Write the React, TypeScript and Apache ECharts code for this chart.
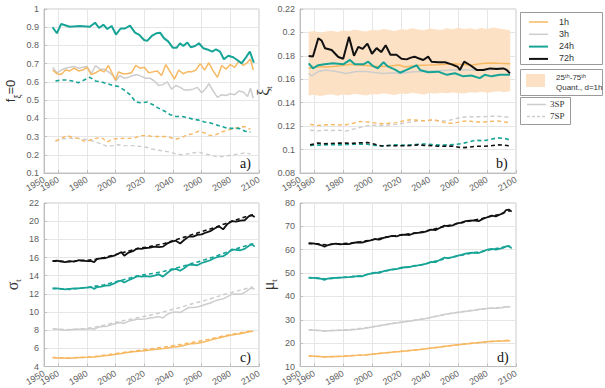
import React, { useEffect, useRef } from "react";
import * as echarts from "echarts";

const C1 = "#F7B862";
const C3 = "#CDCDCD";
const C24 = "#17A497";
const C72 = "#111111";
const BAND = "#FDE1C4";

// Panel a) f_xi=0
const a1hSolid: [number, number][] = [[1956,0.665],[1959,0.645],[1962,0.64],[1965,0.665],[1968,0.66],[1971,0.675],[1974,0.66],[1977,0.665],[1980,0.68],[1983,0.64],[1986,0.65],[1989,0.665],[1992,0.655],[1995,0.69],[1998,0.64],[2000,0.61],[2002,0.655],[2005,0.645],[2008,0.645],[2011,0.65],[2014,0.69],[2017,0.675],[2020,0.68],[2023,0.65],[2026,0.655],[2029,0.66],[2032,0.635],[2035,0.695],[2038,0.655],[2041,0.615],[2044,0.665],[2047,0.645],[2050,0.655],[2053,0.655],[2056,0.665],[2059,0.70],[2062,0.665],[2065,0.705],[2068,0.66],[2071,0.625],[2074,0.69],[2077,0.67],[2080,0.695],[2083,0.68],[2086,0.715],[2089,0.69],[2091,0.70],[2094,0.725],[2096,0.665]];
const a3hSolid: [number, number][] = [[1956,0.68],[1959,0.65],[1962,0.665],[1965,0.675],[1968,0.68],[1971,0.685],[1974,0.675],[1977,0.68],[1980,0.685],[1983,0.645],[1986,0.69],[1989,0.67],[1992,0.67],[1995,0.655],[1998,0.635],[2000,0.605],[2003,0.635],[2006,0.62],[2009,0.625],[2012,0.635],[2015,0.64],[2018,0.63],[2021,0.62],[2024,0.62],[2027,0.605],[2030,0.58],[2033,0.585],[2036,0.60],[2039,0.56],[2042,0.58],[2045,0.57],[2048,0.555],[2051,0.555],[2054,0.56],[2057,0.57],[2060,0.54],[2063,0.565],[2065,0.59],[2068,0.55],[2071,0.515],[2074,0.53],[2077,0.525],[2080,0.535],[2083,0.53],[2086,0.55],[2089,0.545],[2092,0.52],[2094,0.565],[2096,0.51]];
const a24hSolid: [number, number][] = [[1956,0.90],[1959,0.867],[1962,0.918],[1968,0.903],[1975,0.907],[1982,0.903],[1985.6,0.925],[1988.4,0.896],[1991.4,0.914],[1994.2,0.89],[1997.2,0.907],[2000.2,0.86],[2003.5,0.893],[2006.5,0.893],[2010,0.909],[2013.5,0.87],[2016.5,0.858],[2019.8,0.83],[2022,0.825],[2025.2,0.852],[2028.6,0.867],[2031,0.87],[2033.7,0.84],[2036.8,0.821],[2039.8,0.788],[2042.6,0.788],[2044.9,0.812],[2047.2,0.797],[2050,0.816],[2052.4,0.79],[2055.4,0.797],[2058.1,0.812],[2061.1,0.785],[2064.6,0.776],[2067.4,0.766],[2070,0.779],[2072.8,0.766],[2075.5,0.724],[2078.6,0.743],[2082,0.735],[2084.8,0.72],[2087.8,0.702],[2091.3,0.739],[2093.6,0.766],[2096.4,0.706]];
const a1hDash: [number, number][] = [[1958,0.275],[1962,0.29],[1966,0.305],[1970,0.295],[1974,0.29],[1978,0.275],[1982,0.28],[1986,0.29],[1990,0.295],[1994,0.27],[1998,0.285],[2002,0.29],[2006,0.29],[2010,0.29],[2014,0.295],[2018,0.305],[2022,0.305],[2026,0.30],[2030,0.30],[2034,0.30],[2038,0.295],[2042,0.285],[2046,0.295],[2050,0.31],[2054,0.315],[2058,0.33],[2062,0.32],[2066,0.305],[2070,0.31],[2074,0.325],[2078,0.335],[2082,0.345],[2086,0.35],[2090,0.355],[2094,0.34]];
const a3hDash: [number, number][] = [[1958,0.275],[1962,0.285],[1966,0.29],[1970,0.29],[1974,0.29],[1978,0.285],[1982,0.28],[1986,0.27],[1990,0.26],[1994,0.245],[1998,0.25],[2002,0.255],[2006,0.25],[2010,0.25],[2014,0.25],[2018,0.245],[2022,0.24],[2026,0.23],[2030,0.225],[2034,0.22],[2038,0.215],[2042,0.205],[2046,0.20],[2050,0.205],[2054,0.21],[2058,0.215],[2062,0.205],[2066,0.20],[2070,0.19],[2074,0.19],[2078,0.195],[2082,0.20],[2086,0.205],[2090,0.21],[2094,0.205]];
const a24hDash: [number, number][] = [[1958,0.605],[1962,0.61],[1966,0.61],[1970,0.605],[1974,0.595],[1978,0.61],[1982,0.625],[1986,0.605],[1990,0.60],[1994,0.59],[1998,0.58],[2002,0.575],[2006,0.555],[2010,0.53],[2014,0.49],[2018,0.485],[2022,0.49],[2026,0.475],[2030,0.455],[2034,0.44],[2038,0.42],[2042,0.41],[2046,0.41],[2050,0.405],[2054,0.395],[2058,0.39],[2062,0.38],[2066,0.375],[2070,0.365],[2074,0.355],[2078,0.345],[2082,0.345],[2086,0.345],[2090,0.33],[2094,0.325]];

// Panel b) xi_t
const bandYears = [1956,1960,1964,1968,1972,1976,1980,1984,1988,1992,1996,2000,2004,2008,2012,2016,2020,2024,2028,2032,2036,2040,2044,2048,2052,2056,2060,2064,2068,2072,2076,2080,2084,2088,2092,2096];
const bandUpper = [0.2005,0.2012,0.1998,0.2008,0.2015,0.2003,0.2018,0.2010,0.2025,0.2014,0.2008,0.2022,0.2016,0.2030,0.2020,0.2012,0.2028,0.2022,0.2035,0.2026,0.2018,0.2033,0.2027,0.2020,0.2036,0.2028,0.2040,0.2030,0.2036,0.2024,0.2038,0.2030,0.2042,0.2034,0.2028,0.2015];
const bandLower = [0.1462,0.1468,0.1458,0.1465,0.1472,0.1460,0.1470,0.1464,0.1476,0.1468,0.1462,0.1474,0.1470,0.1480,0.1472,0.1466,0.1478,0.1474,0.1484,0.1476,0.1470,0.1482,0.1478,0.1486,0.1480,0.1488,0.1482,0.1478,0.1490,0.1484,0.1494,0.1486,0.1492,0.1498,0.1490,0.1500];
const b72hSolid: [number, number][] = [[1956,0.1799],[1959,0.1795],[1962.7,0.195],[1965,0.193],[1967.4,0.1865],[1972,0.185],[1976.6,0.179],[1980,0.1775],[1984,0.1962],[1987.5,0.180],[1990.5,0.1877],[1993.5,0.186],[1996.8,0.1905],[2000,0.1818],[2003.2,0.1866],[2006.4,0.1832],[2009.5,0.189],[2012.8,0.181],[2017,0.181],[2020.5,0.1775],[2024,0.177],[2027,0.1785],[2029.5,0.1793],[2032.2,0.178],[2035.6,0.1765],[2039,0.1793],[2041.4,0.175],[2046,0.1745],[2050.7,0.1745],[2055.3,0.1727],[2059.5,0.1707],[2061,0.168],[2064,0.175],[2068,0.1722],[2072.7,0.168],[2077.3,0.168],[2082,0.1693],[2086.6,0.1688],[2091.2,0.1693],[2093.5,0.168],[2095.8,0.165]];
const b24hSolid: [number, number][] = [[1956,0.1736],[1959,0.1694],[1962.7,0.172],[1967,0.1728],[1973,0.1736],[1980,0.1728],[1984.7,0.1765],[1988,0.1728],[1994,0.1728],[1997.4,0.175],[2001,0.171],[2004,0.1694],[2008,0.1745],[2011,0.171],[2016,0.1682],[2019.5,0.1656],[2024,0.168],[2027,0.1698],[2030,0.1713],[2031,0.172],[2033.3,0.168],[2039,0.166],[2046,0.1665],[2052,0.1638],[2057.6,0.1652],[2063.4,0.1625],[2069,0.1632],[2074.8,0.161],[2078.3,0.1638],[2083,0.1625],[2088.7,0.1638],[2095.8,0.1638]];
const b1hSolid: [number, number][] = [[1956,0.1694],[1960,0.1702],[1964,0.171],[1968,0.1705],[1973,0.171],[1978,0.1716],[1985,0.1728],[1990,0.1722],[1996,0.1717],[2002,0.1712],[2008,0.171],[2014,0.1716],[2019,0.1722],[2023,0.1705],[2029,0.1715],[2035,0.172],[2040,0.1722],[2046,0.1725],[2051,0.1728],[2057,0.1733],[2063,0.1726],[2069,0.172],[2075,0.1732],[2081,0.174],[2088,0.1736],[2096,0.1733]];
const b3hSolid: [number, number][] = [[1956,0.165],[1958,0.163],[1963,0.1667],[1968,0.168],[1975,0.1667],[1982,0.165],[1989,0.1667],[1996,0.1667],[2002,0.1658],[2008,0.165],[2014,0.1655],[2019,0.165],[2027,0.1662],[2035,0.1667],[2046,0.1672],[2057,0.168],[2069,0.168],[2081,0.168],[2087,0.1698],[2092,0.1688],[2096,0.167]];
const b1hDash: [number, number][] = [[1957,0.1215],[1962,0.1205],[1967,0.121],[1972,0.1213],[1977,0.121],[1982,0.1212],[1987,0.1225],[1992,0.124],[1997,0.1235],[2002,0.1228],[2007,0.122],[2012,0.1225],[2017,0.123],[2022,0.1245],[2027,0.1255],[2032,0.125],[2037,0.1245],[2042,0.1255],[2047,0.1245],[2052,0.1225],[2057,0.1225],[2062,0.124],[2067,0.1245],[2072,0.1235],[2077,0.1235],[2082,0.124],[2087,0.1245],[2092,0.1235],[2095,0.123]];
const b3hDash: [number, number][] = [[1957,0.1165],[1962,0.116],[1967,0.1165],[1972,0.1163],[1977,0.1165],[1982,0.1158],[1987,0.1175],[1992,0.119],[1997,0.1205],[2002,0.1208],[2007,0.1205],[2012,0.121],[2017,0.1215],[2022,0.1225],[2027,0.1235],[2032,0.1245],[2037,0.1245],[2042,0.125],[2047,0.1245],[2052,0.1245],[2057,0.126],[2062,0.1275],[2067,0.128],[2072,0.128],[2077,0.128],[2082,0.1285],[2087,0.1285],[2092,0.128],[2095,0.1275]];
const b24hDash: [number, number][] = [[1957,0.1035],[1962,0.1038],[1967,0.104],[1972,0.1042],[1977,0.104],[1982,0.1043],[1987,0.1045],[1992,0.1047],[1997,0.1045],[2002,0.1035],[2007,0.1032],[2012,0.1035],[2017,0.104],[2022,0.1038],[2027,0.104],[2032,0.1045],[2037,0.1048],[2042,0.1042],[2047,0.1038],[2052,0.104],[2057,0.1042],[2062,0.105],[2067,0.1065],[2072,0.108],[2077,0.1075],[2082,0.1085],[2087,0.11],[2092,0.1095],[2095,0.1085]];
const b72hDash: [number, number][] = [[1957,0.104],[1962,0.1055],[1967,0.105],[1972,0.1052],[1977,0.1055],[1982,0.1055],[1987,0.1053],[1992,0.1058],[1997,0.106],[2002,0.1045],[2007,0.103],[2012,0.1035],[2017,0.1032],[2022,0.1033],[2027,0.1035],[2032,0.104],[2037,0.1035],[2042,0.1033],[2047,0.1028],[2052,0.103],[2057,0.1028],[2062,0.1015],[2067,0.102],[2072,0.1028],[2077,0.1028],[2082,0.1032],[2087,0.104],[2092,0.1038],[2095,0.1032]];

// Panel c) sigma_t
const c72hSolid: [number, number][] = [[1956,15.6],[1959,15.65],[1962,15.55],[1965,15.5],[1968,15.6],[1971,15.55],[1974,15.7],[1977,15.65],[1980,15.6],[1983,15.6],[1985,15.5],[1987,15.85],[1990,15.9],[1993,15.95],[1996,16.1],[1999,16.2],[2002,16.45],[2004,16.6],[2006,16.2],[2009,16.55],[2012,16.7],[2015,17.0],[2018,16.95],[2021,17.05],[2024,17.1],[2027,17.2],[2030,17.15],[2033,17.2],[2036,17.55],[2039,17.75],[2042,17.85],[2045,17.55],[2048,17.95],[2051,18.3],[2054,18.3],[2057,18.5],[2060,18.55],[2063,18.75],[2066,18.9],[2069,19.2],[2072,19.45],[2075,19.1],[2078,19.7],[2081,20.0],[2084,19.95],[2087,20.05],[2090,20.1],[2093,20.55],[2095,20.65],[2097,20.45]];
const c72hDash: [number, number][] = [[1956,15.6],[1962,15.6],[1968,15.55],[1974,15.65],[1980,15.7],[1986,15.8],[1992,16.0],[1998,16.25],[2004,16.5],[2010,16.75],[2016,17.0],[2022,17.15],[2028,17.35],[2034,17.55],[2040,17.85],[2046,18.15],[2052,18.45],[2058,18.75],[2064,19.05],[2070,19.35],[2076,19.7],[2082,20.05],[2088,20.35],[2094,20.65],[2096,20.7]];
const c24hSolid: [number, number][] = [[1956,12.6],[1959,12.6],[1962,12.55],[1965,12.5],[1968,12.55],[1971,12.6],[1974,12.6],[1977,12.65],[1980,12.7],[1983,12.75],[1985,12.55],[1987,12.75],[1990,12.8],[1993,12.9],[1996,12.95],[1999,13.15],[2002,13.4],[2004,13.45],[2006,13.25],[2009,13.5],[2012,13.7],[2015,13.95],[2018,13.9],[2021,13.95],[2024,13.9],[2027,14.0],[2030,14.15],[2033,13.9],[2036,14.3],[2039,14.65],[2042,14.75],[2045,14.55],[2048,14.85],[2051,15.2],[2054,15.2],[2057,15.15],[2060,15.4],[2063,15.55],[2066,15.7],[2069,15.95],[2072,16.1],[2075,16.15],[2078,16.45],[2081,16.9],[2084,16.85],[2087,16.8],[2090,16.95],[2093,17.3],[2095,17.45],[2097,17.2]];
const c24hDash: [number, number][] = [[1956,12.6],[1962,12.55],[1968,12.5],[1974,12.6],[1980,12.7],[1986,12.85],[1992,13.0],[1998,13.25],[2004,13.5],[2010,13.75],[2016,14.0],[2022,14.15],[2028,14.3],[2034,14.5],[2040,14.75],[2046,15.0],[2052,15.3],[2058,15.55],[2064,15.85],[2070,16.15],[2076,16.5],[2082,16.85],[2088,17.15],[2094,17.45],[2096,17.5]];
const c3hSolid: [number, number][] = [[1956,8.15],[1959,8.1],[1962,8.05],[1965,8.0],[1968,8.05],[1971,8.1],[1974,8.1],[1977,8.15],[1980,8.1],[1983,8.2],[1985,8.1],[1988,8.35],[1991,8.4],[1994,8.45],[1997,8.6],[2000,8.75],[2003,8.85],[2006,8.75],[2009,9.0],[2012,9.1],[2015,9.2],[2018,9.2],[2021,9.25],[2024,9.35],[2027,9.4],[2030,9.5],[2033,9.35],[2036,9.75],[2039,9.95],[2042,10.0],[2045,9.95],[2048,10.25],[2051,10.5],[2054,10.5],[2057,10.55],[2060,10.7],[2063,10.85],[2066,11.0],[2069,11.2],[2072,11.35],[2075,11.45],[2078,11.7],[2081,11.95],[2084,12.0],[2087,11.95],[2090,12.15],[2093,12.5],[2095,12.65],[2097,12.5]];
const c3hDash: [number, number][] = [[1956,8.15],[1962,8.1],[1968,8.05],[1974,8.1],[1980,8.2],[1986,8.35],[1992,8.55],[1998,8.8],[2004,9.0],[2010,9.2],[2016,9.4],[2022,9.6],[2028,9.8],[2034,10.05],[2040,10.3],[2046,10.55],[2052,10.85],[2058,11.1],[2064,11.35],[2070,11.65],[2076,11.95],[2082,12.2],[2088,12.45],[2094,12.7],[2096,12.75]];
const c1hSolid: [number, number][] = [[1956,5.0],[1960,4.95],[1964,4.95],[1968,4.92],[1972,4.97],[1976,5.0],[1980,5.02],[1984,5.05],[1988,5.12],[1992,5.2],[1996,5.25],[2000,5.35],[2004,5.45],[2008,5.55],[2012,5.62],[2016,5.7],[2020,5.75],[2024,5.82],[2028,5.9],[2032,5.95],[2036,6.05],[2040,6.15],[2044,6.2],[2048,6.35],[2052,6.5],[2056,6.55],[2060,6.65],[2064,6.8],[2068,7.0],[2072,7.15],[2076,7.3],[2080,7.45],[2084,7.55],[2088,7.65],[2092,7.8],[2096,7.9]];
const c1hDash: [number, number][] = [[1956,5.0],[1962,4.97],[1968,4.95],[1974,5.0],[1980,5.05],[1986,5.12],[1992,5.25],[1998,5.38],[2004,5.52],[2010,5.65],[2016,5.78],[2022,5.9],[2028,6.02],[2034,6.15],[2040,6.3],[2046,6.45],[2052,6.62],[2058,6.8],[2064,6.98],[2070,7.18],[2076,7.4],[2082,7.58],[2088,7.75],[2094,7.92],[2096,7.95]];

// Panel d) mu_t
const d72hSolid: [number, number][] = [[1956,62.8],[1959,62.7],[1962,62.4],[1965,61.9],[1967,61.3],[1969,61.9],[1972,62.4],[1975,62.6],[1978,62.3],[1981,62.5],[1984,62.4],[1987,62.9],[1990,63.2],[1993,63.0],[1996,63.6],[1999,64.0],[2002,64.6],[2005,64.3],[2008,65.1],[2011,65.5],[2014,65.9],[2017,65.7],[2020,66.3],[2023,66.5],[2026,66.3],[2029,67.0],[2032,67.2],[2035,67.4],[2038,67.9],[2041,68.6],[2044,68.4],[2047,69.3],[2050,70.3],[2053,70.1],[2056,70.4],[2059,71.3],[2062,71.6],[2065,72.2],[2068,72.5],[2071,72.6],[2074,72.2],[2077,73.2],[2080,73.9],[2083,74.6],[2086,74.3],[2089,75.1],[2091,75.5],[2093,76.9],[2095,77.2],[2097,76.3]];
const d72hDash: [number, number][] = [[1956,62.6],[1962,62.5],[1968,62.1],[1974,62.4],[1980,62.6],[1986,62.9],[1992,63.4],[1998,64.0],[2004,64.7],[2010,65.4],[2016,66.0],[2022,66.5],[2028,67.0],[2034,67.6],[2040,68.4],[2046,69.3],[2052,70.2],[2058,71.0],[2064,71.8],[2070,72.6],[2076,73.3],[2082,74.2],[2088,75.1],[2094,76.4],[2096,76.7]];
const d24hSolid: [number, number][] = [[1956,48.1],[1959,48.0],[1962,47.8],[1965,47.5],[1967,47.1],[1969,47.6],[1972,47.8],[1975,48.0],[1978,48.1],[1981,48.2],[1984,48.3],[1987,48.5],[1990,48.7],[1993,48.6],[1996,49.3],[1999,49.8],[2002,50.2],[2005,50.1],[2008,50.8],[2011,51.2],[2014,51.6],[2017,51.7],[2020,52.3],[2023,52.5],[2026,52.6],[2029,53.1],[2032,53.3],[2035,53.6],[2038,54.1],[2041,54.8],[2044,54.7],[2047,55.6],[2050,56.6],[2053,56.4],[2056,56.8],[2059,57.4],[2062,57.8],[2065,58.3],[2068,58.6],[2071,58.8],[2074,58.6],[2077,59.3],[2080,60.0],[2083,60.4],[2086,60.1],[2089,60.5],[2091,60.8],[2093,61.4],[2095,61.6],[2097,60.6]];
const d24hDash: [number, number][] = [[1956,48.0],[1962,47.9],[1968,47.5],[1974,47.9],[1980,48.2],[1986,48.5],[1992,48.9],[1998,49.6],[2004,50.3],[2010,51.0],[2016,51.7],[2022,52.3],[2028,52.9],[2034,53.5],[2040,54.4],[2046,55.4],[2052,56.3],[2058,57.1],[2064,57.9],[2070,58.6],[2076,59.2],[2082,60.0],[2088,60.7],[2094,61.5],[2096,61.4]];
const d3hSolid: [number, number][] = [[1956,25.8],[1960,25.6],[1964,25.4],[1967,25.1],[1970,25.3],[1974,25.4],[1978,25.5],[1982,25.6],[1986,25.8],[1990,26.0],[1994,26.3],[1998,26.7],[2002,27.2],[2006,27.6],[2010,28.0],[2014,28.4],[2018,28.8],[2022,29.1],[2026,29.4],[2030,29.8],[2034,30.2],[2038,30.6],[2042,31.2],[2046,31.7],[2050,32.3],[2054,32.7],[2058,33.0],[2062,33.4],[2066,33.7],[2070,34.0],[2074,34.4],[2078,34.7],[2082,35.0],[2086,35.0],[2090,35.2],[2094,35.6],[2096,35.5]];
const d3hDash: [number, number][] = [[1956,25.8],[1966,25.3],[1976,25.5],[1986,25.9],[1996,26.6],[2006,27.6],[2016,28.6],[2026,29.5],[2036,30.5],[2046,31.7],[2056,32.9],[2066,33.8],[2076,34.6],[2086,35.2],[2096,35.7]];
const d1hSolid: [number, number][] = [[1956,14.5],[1960,14.4],[1964,14.3],[1967,14.1],[1970,14.2],[1975,14.3],[1980,14.4],[1985,14.6],[1990,14.8],[1995,15.0],[2000,15.3],[2005,15.6],[2010,15.9],[2015,16.2],[2020,16.5],[2025,16.8],[2030,17.1],[2035,17.4],[2040,17.8],[2045,18.2],[2050,18.6],[2055,19.0],[2060,19.3],[2065,19.7],[2070,20.0],[2075,20.3],[2080,20.6],[2085,20.8],[2090,21.0],[2094,21.2],[2096,21.0]];
const d1hDash: [number, number][] = [[1956,14.5],[1966,14.2],[1976,14.3],[1986,14.7],[1996,15.1],[2006,15.7],[2016,16.3],[2026,16.9],[2036,17.5],[2046,18.3],[2056,19.1],[2066,19.8],[2076,20.4],[2086,20.9],[2096,21.2]];

const legendLabels = ["1h", "3h", "24h", "72h"];
const legendColors = [C1, C3, C24, C72];
const panelLabels = ["a)", "b)", "c)", "d)"];
const xFirstLabel = 1950;

const SANS = "'Liberation Sans', Arial, Helvetica, sans-serif";
const SERIF = "'Liberation Serif', 'Times New Roman', serif";

const gridsPos = [
  { left: 44, top: 9, width: 215, height: 164 },
  { left: 300, top: 9, width: 216, height: 164 },
  { left: 44, top: 203, width: 215, height: 164 },
  { left: 300, top: 203, width: 216, height: 164 },
];
const yRanges = [
  { min: 0.1, max: 1, interval: 0.1 },
  { min: 0.08, max: 0.22, interval: 0.02 },
  { min: 4, max: 22, interval: 2 },
  { min: 10, max: 80, interval: 10 },
];

function line(g: number, data: [number, number][], color: string, width: number, dashed: boolean, z: number) {
  return {
    type: "line",
    xAxisIndex: g,
    yAxisIndex: g,
    data,
    symbol: "none",
    showSymbol: false,
    silent: true,
    z,
    lineStyle: { color, width, type: dashed ? [4, 3] : "solid" },
  };
}

export default function App() {
  const ref = useRef<HTMLDivElement>(null);
  useEffect(() => {
    if (!ref.current) return;
    const chart = echarts.init(ref.current, null, { renderer: "svg" });

    const yNames = [
      { name: "{m|f}{s|ξ}{m|=0}", gap: 22, big: 13, fam: SANS },
      { name: "{m|ξ}{s|t}", gap: 22, big: 16, fam: SERIF },
      { name: "{m|σ}{s|t}", gap: 22, big: 16, fam: SERIF },
      { name: "{m|μ}{s|t}", gap: 22, big: 16, fam: SERIF },
    ];

    const grid = gridsPos.map((p) => ({
      ...p,
      show: true,
      borderColor: "#c8c8c8",
      borderWidth: 1,
      backgroundColor: "#ffffff",
      containLabel: false,
    }));

    const labelStyle = { rotate: 30, fontSize: 9, color: "#606060", fontFamily: SANS, margin: 6 };

    const xMain = gridsPos.map((_, i) => ({
      type: "value",
      gridIndex: i,
      position: "bottom",
      min: 1950,
      max: 2100,
      splitNumber: 7,
      axisLine: { show: true, lineStyle: { color: "#bdbdbd" } },
      axisTick: { show: true, inside: true, length: 3, lineStyle: { color: "#bdbdbd" } },
      splitLine: { show: true, lineStyle: { color: "#e6e6e6", width: 1 } },
      axisLabel: { ...labelStyle, showMinLabel: false, showMaxLabel: true, formatter: (v: number) => String(v) },
    }));
    // overlay axis (same bottom position) that only shows the first (1950) label
    const xFirst = gridsPos.map((_, i) => ({
      type: "value",
      gridIndex: i,
      position: "bottom",
      offset: 0,
      min: 1950,
      max: 2100,
      splitNumber: 7,
      axisLine: { show: false },
      axisTick: { show: false },
      splitLine: { show: false },
      axisLabel: {
        ...labelStyle, showMinLabel: true, showMaxLabel: false,
        formatter: (v: number) => (v === xFirstLabel ? String(v) : ""),
      },
    }));

    const yAxis = gridsPos.map((_, i) => ({
      type: "value",
      gridIndex: i,
      min: yRanges[i].min,
      max: yRanges[i].max,
      interval: yRanges[i].interval,
      name: yNames[i].name,
      nameLocation: "middle",
      nameGap: yNames[i].gap,
      nameTextStyle: {
        rich: {
          m: { fontSize: yNames[i].big, fontFamily: yNames[i].fam, color: "#333", lineHeight: 18, verticalAlign: "top" },
          s: { fontSize: 9, fontFamily: yNames[i].fam, color: "#333", lineHeight: 18, verticalAlign: "bottom", padding: [8, 0, 0, 0] },
        },
      },
      axisLine: { show: true, lineStyle: { color: "#bdbdbd" } },
      axisTick: { show: true, inside: true, length: 3, lineStyle: { color: "#bdbdbd" } },
      splitLine: { show: true, lineStyle: { color: "#e6e6e6", width: 1 } },
      axisLabel: { fontSize: 9, color: "#606060", fontFamily: SANS, margin: 5 },
    }));

    const series: any[] = [
      // a
      line(0, a3hDash, C3, 1.4, true, 2),
      line(0, a1hDash, C1, 1.4, true, 3),
      line(0, a24hDash, C24, 1.6, true, 4),
      line(0, a3hSolid, C3, 1.5, false, 5),
      line(0, a1hSolid, C1, 1.5, false, 6),
      line(0, a24hSolid, C24, 2, false, 7),
      // b band (25th-75th quantile, d=1h)
      {
        type: "custom",
        xAxisIndex: 1,
        yAxisIndex: 1,
        silent: true,
        z: 1,
        data: [[0]],
        renderItem: (_params: any, api: any) => {
          const pts: number[][] = [];
          for (let i = 0; i < bandYears.length; i++) pts.push(api.coord([bandYears[i], bandUpper[i]]));
          for (let i = bandYears.length - 1; i >= 0; i--) pts.push(api.coord([bandYears[i], bandLower[i]]));
          return { type: "polygon", shape: { points: pts }, style: { fill: BAND, stroke: null } };
        },
      },
      line(1, b3hDash, C3, 1.4, true, 2),
      line(1, b1hDash, C1, 1.4, true, 3),
      line(1, b24hDash, C24, 1.6, true, 4),
      line(1, b72hDash, C72, 1.6, true, 4),
      line(1, b3hSolid, C3, 1.5, false, 5),
      line(1, b1hSolid, C1, 1.5, false, 6),
      line(1, b24hSolid, C24, 2, false, 7),
      line(1, b72hSolid, C72, 2, false, 8),
      // c
      line(2, c1hSolid, C1, 1.5, false, 5),
      line(2, c1hDash, C1, 1.5, true, 6),
      line(2, c3hSolid, C3, 1.5, false, 5),
      line(2, c3hDash, C3, 1.5, true, 6),
      line(2, c24hSolid, C24, 1.8, false, 5),
      line(2, c24hDash, C24, 1.6, true, 6),
      line(2, c72hSolid, C72, 1.8, false, 5),
      line(2, c72hDash, C72, 1.6, true, 6),
      // d
      line(3, d1hSolid, C1, 1.5, false, 5),
      line(3, d1hDash, C1, 1.5, true, 6),
      line(3, d3hSolid, C3, 1.5, false, 5),
      line(3, d3hDash, C3, 1.5, true, 6),
      line(3, d24hSolid, C24, 1.8, false, 5),
      line(3, d24hDash, C24, 1.6, true, 6),
      line(3, d72hSolid, C72, 1.8, false, 5),
      line(3, d72hDash, C72, 1.6, true, 6),
    ];

    const labelPos = [
      [240, 156], [496, 156], [240, 350], [497, 350],
    ];
    const graphic: any[] = panelLabels.map((t, i) => ({
      type: "text", x: labelPos[i][0], y: labelPos[i][1], z: 100,
      style: { text: t, font: `14px ${SERIF}`, fill: "#111" },
    }));

    // legend box 1
    graphic.push({ type: "rect", shape: { x: 520.5, y: 12.5, width: 82, height: 52 }, style: { fill: "#fff", stroke: "#9a9a9a", lineWidth: 1 }, z: 100 });
    legendLabels.forEach((t, i) => {
      const yy = 22 + i * 12.3;
      graphic.push({ type: "line", shape: { x1: 529, y1: yy, x2: 548, y2: yy }, style: { stroke: legendColors[i], lineWidth: i >= 2 ? 2 : 1.5 }, z: 101 });
      graphic.push({ type: "text", x: 559, y: yy - 5, style: { text: t, font: `9px ${SANS}`, fill: "#333" }, z: 101 });
    });
    // legend box 2
    graphic.push({ type: "rect", shape: { x: 520.5, y: 69.5, width: 82, height: 26 }, style: { fill: "#fff", stroke: "#9a9a9a", lineWidth: 1 }, z: 100 });
    graphic.push({ type: "rect", shape: { x: 526, y: 74, width: 19, height: 13 }, style: { fill: BAND }, z: 101 });
    graphic.push({ type: "text", x: 556, y: 73, style: { text: "25ᵗʰ-75ᵗʰ", font: `8px ${SANS}`, fill: "#333" }, z: 101 });
    graphic.push({ type: "text", x: 556, y: 83, style: { text: "Quant., d=1h", font: `8px ${SANS}`, fill: "#333" }, z: 101 });
    // legend box 3
    graphic.push({ type: "rect", shape: { x: 520.5, y: 97.5, width: 50, height: 27 }, style: { fill: "#fff", stroke: "#9a9a9a", lineWidth: 1 }, z: 100 });
    graphic.push({ type: "line", shape: { x1: 527, y1: 104.5, x2: 546, y2: 104.5 }, style: { stroke: C3, lineWidth: 1.5 }, z: 101 });
    graphic.push({ type: "line", shape: { x1: 527, y1: 116.5, x2: 546, y2: 116.5 }, style: { stroke: C3, lineWidth: 1.5, lineDash: [3, 2] }, z: 101 });
    graphic.push({ type: "text", x: 550, y: 99, style: { text: "3SP", font: `9px ${SERIF}`, fill: "#333" }, z: 101 });
    graphic.push({ type: "text", x: 550, y: 111, style: { text: "7SP", font: `9px ${SERIF}`, fill: "#333" }, z: 101 });

    chart.setOption({
      animation: false,
      backgroundColor: "#ffffff",
      grid,
      xAxis: [...xMain, ...xFirst],
      yAxis,
      series,
      graphic,
    });
    return () => chart.dispose();
  }, []);

  return (
    <div
      ref={ref}
      style={{ position: "fixed", left: 0, top: 0, width: 605, height: 388, background: "#fff" }}
    />
  );
}
